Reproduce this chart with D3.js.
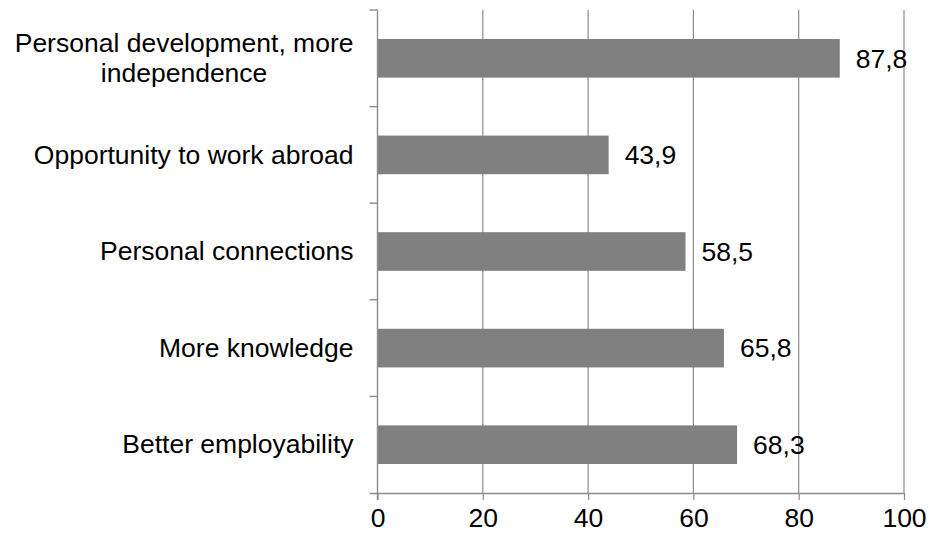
<!DOCTYPE html>
<html>
<head>
<meta charset="utf-8">
<script src="https://cdn.jsdelivr.net/npm/d3@7"></script>
<style>
  html, body { margin: 0; padding: 0; background: #fff; }
  svg text { font-family: "Liberation Sans", Arial, sans-serif; fill: #000; }
</style>
</head>
<body>
<svg id="chart" width="930" height="536"></svg>
<script>
// Reasons given, listed top to bottom
const categories = [
  ["Personal development, more", "independence"],
  ["Opportunity to work abroad"],
  ["Personal connections"],
  ["More knowledge"],
  ["Better employability"]
];
const values = [87.8, 43.9, 58.5, 65.8, 68.3];
const xTicks = [0, 20, 40, 60, 80, 100];

const fontSize = 26.5;
const lineCol = "#8c8c8c";
const barCol = "#808080";

const svg = d3.select("#chart");
const margin = { left: 377.5, right: 26, top: 10, bottom: 43 };
const W = 930, H = 536;

const x = d3.scaleLinear().domain([0, 100]).range([margin.left, W - margin.right]);
const y = d3.scaleBand()
  .domain(d3.range(categories.length))
  .range([margin.top, H - margin.bottom])
  .paddingInner(0.6)
  .paddingOuter(0.3);

const plotTop = margin.top, plotBottom = H - margin.bottom;

// vertical gridlines
svg.append("g").selectAll("line")
  .data(xTicks.filter(t => t > 0))
  .join("line")
  .attr("x1", d => x(d)).attr("x2", d => x(d))
  .attr("y1", plotTop).attr("y2", plotBottom)
  .attr("stroke", lineCol).attr("stroke-width", 1.2);

// bars
svg.append("g").selectAll("rect")
  .data(values)
  .join("rect")
  .attr("x", x(0))
  .attr("y", (d, i) => y(i))
  .attr("width", d => x(d) - x(0))
  .attr("height", y.bandwidth())
  .attr("fill", barCol);

// value labels
svg.append("g").selectAll("text")
  .data(values)
  .join("text")
  .attr("x", d => x(d) + 16)
  .attr("y", (d, i) => y(i) + y.bandwidth() / 2)
  .attr("dy", "0.35em")
  .attr("font-size", fontSize)
  .text(d => d.toFixed(1).replace(".", ","));

// x axis
const xAxis = d3.axisBottom(x).tickValues(xTicks).tickSize(7).tickPadding(8).tickFormat(d => d);
const gx = svg.append("g")
  .attr("transform", `translate(0,${plotBottom})`)
  .call(xAxis);
gx.select(".domain").attr("stroke", lineCol).attr("stroke-width", 1.4)
  .attr("d", `M${x(0) - 8},0.5H${x(100)}`);
gx.selectAll(".tick line").attr("stroke", lineCol).attr("stroke-width", 1.2);
gx.selectAll(".tick text")
  .attr("font-size", fontSize)
  .attr("font-family", "Liberation Sans, Arial, sans-serif")
  .attr("fill", "#000");

// y axis: category boundaries
const bounds = d3.range(categories.length + 1).map(i => plotTop + i * (plotBottom - plotTop) / categories.length);
const gy = svg.append("g");
gy.append("line")
  .attr("x1", x(0)).attr("x2", x(0))
  .attr("y1", plotTop).attr("y2", plotBottom + 7)
  .attr("stroke", lineCol).attr("stroke-width", 1.4);
gy.selectAll("line.tk")
  .data(bounds.slice(0, -1))
  .join("line").attr("class", "tk")
  .attr("x1", x(0) - 8).attr("x2", x(0))
  .attr("y1", d => d).attr("y2", d => d)
  .attr("stroke", lineCol).attr("stroke-width", 1.4);

// category labels (multi-line labels are centred as a block, right-aligned to the axis)
const labelRight = x(0) - 24;
const lineH = 30;
categories.forEach((lines, i) => {
  const cy = y(i) + y.bandwidth() / 2;
  const t = svg.append("text")
    .attr("font-size", fontSize)
    .attr("text-anchor", "middle");
  lines.forEach((ln, j) => {
    t.append("tspan")
      .attr("x", 0)
      .attr("y", cy + (j - (lines.length - 1) / 2) * lineH)
      .attr("dy", "0.33em")
      .text(ln);
  });
  const widest = d3.max(t.selectAll("tspan").nodes(), n => n.getComputedTextLength());
  t.selectAll("tspan").attr("x", labelRight - widest / 2);
});
</script>
</body>
</html>
